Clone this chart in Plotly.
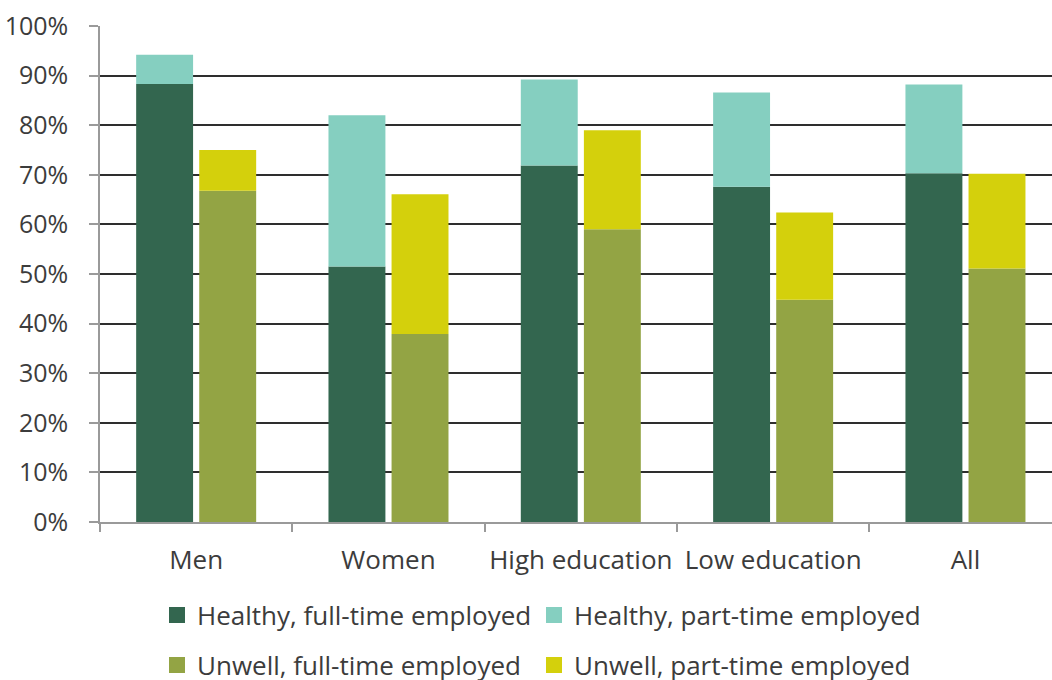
import plotly.graph_objects as go

categories = ["Men", "Women", "High education", "Low education", "All"]
healthy_ft = [88.3, 51.5, 71.9, 67.6, 70.3]
healthy_pt = [5.9, 30.5, 17.3, 19.0, 17.9]
unwell_ft = [66.8, 37.9, 59.0, 44.8, 51.1]
unwell_pt = [8.2, 28.2, 20.0, 17.6, 19.1]
series_names = ["Healthy, full-time employed", "Healthy, part-time employed",
                "Unwell, full-time employed", "Unwell, part-time employed"]
y_ticks = [0, 10, 20, 30, 40, 50, 60, 70, 80, 90, 100]
y_tick_labels = [f"{v}%" for v in y_ticks]

colors = ["#33664F", "#85CFC0", "#93A444", "#D4D00C"]

W = 0.296
OFF_H = -0.312
OFF_U = 0.016

fig = go.Figure()
fig.add_bar(x=categories, y=healthy_ft, name=series_names[0],
            marker_color=colors[0], width=W, offset=OFF_H, showlegend=False)
fig.add_bar(x=categories, y=healthy_pt, base=healthy_ft, name=series_names[1],
            marker_color=colors[1], width=W, offset=OFF_H, showlegend=False)
fig.add_bar(x=categories, y=unwell_ft, name=series_names[2],
            marker_color=colors[2], width=W, offset=OFF_U, showlegend=False)
fig.add_bar(x=categories, y=unwell_pt, base=unwell_ft, name=series_names[3],
            marker_color=colors[3], width=W, offset=OFF_U, showlegend=False)
fig.update_traces(marker_line_width=0)

# legend-only entries with larger square swatches
legend_ids = ["legend", "legend2", "legend3", "legend4"]
for name, col, lid in zip(series_names, colors, legend_ids):
    fig.add_trace(go.Scatter(x=[None], y=[None], mode="markers", name=name,
                             marker=dict(symbol="square", size=18, color=col),
                             legend=lid, showlegend=True, hoverinfo="skip"))

tick_font = dict(family="Open Sans", size=25, color="#3c3c3c")
label_font = dict(family="Open Sans", size=26, color="#3c3c3c")
legend_common = dict(orientation="h", xref="container", yref="container",
                     xanchor="left", yanchor="middle",
                     font=label_font, bgcolor="rgba(0,0,0,0)")

fig.update_layout(
    width=1052, height=680,
    margin=dict(l=100, r=0, t=26, b=158, autoexpand=False),
    paper_bgcolor="white", plot_bgcolor="white",
    barmode="overlay",
    font=label_font,
    showlegend=True,
    legend=dict(**legend_common, x=157 / 1052, y=1 - 615 / 680),
    legend2=dict(**legend_common, x=534 / 1052, y=1 - 615 / 680),
    legend3=dict(**legend_common, x=157 / 1052, y=1 - 665 / 680),
    legend4=dict(**legend_common, x=534 / 1052, y=1 - 665 / 680),
    xaxis=dict(
        range=[-0.5, 4.45], type="category",
        showline=True, linecolor="#9a9a9a", linewidth=1.5,
        ticks="outside", tickson="boundaries", ticklen=8, tickcolor="#9a9a9a", tickwidth=1.5,
        showgrid=False, tickfont=label_font, tickangle=0, ticklabelstandoff=14, automargin=False,
    ),
    yaxis=dict(
        range=[0, 100], tickvals=y_ticks, ticktext=y_tick_labels,
        showline=True, linecolor="#9a9a9a", linewidth=1.5,
        showgrid=True, gridcolor="#2e2e2e", gridwidth=1.8,
        zeroline=False,
        ticks="outside", ticklen=9, tickcolor="#9a9a9a", tickwidth=1.5,
        tickfont=tick_font, ticklabelstandoff=16, automargin=False,
    ),
)

fig.write_html("out.html", config={"displayModeBar": False},
               post_script="document.body.style.margin='0';")
